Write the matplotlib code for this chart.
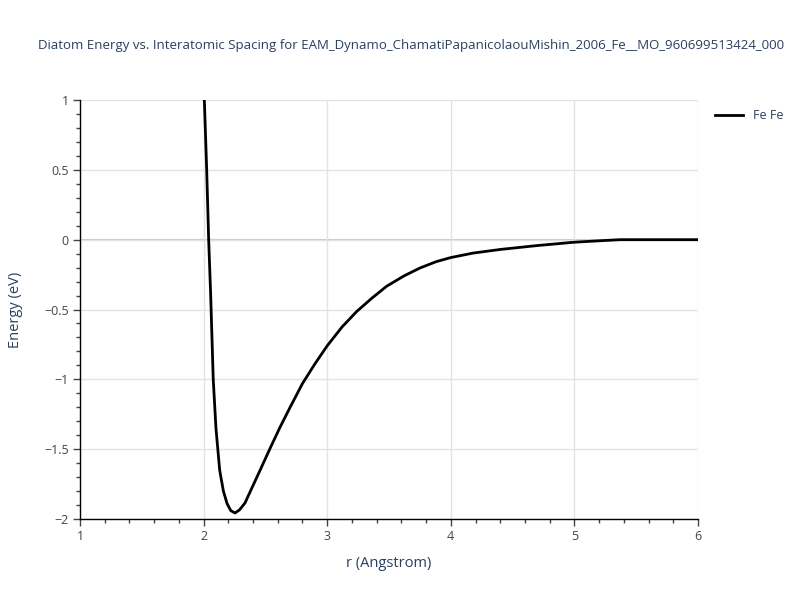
import matplotlib
matplotlib.use("Agg")
import matplotlib.pyplot as plt
from matplotlib.ticker import MultipleLocator

plt.rcParams['font.family'] = ['Open Sans', 'DejaVu Sans']

title = "Diatom Energy vs. Interatomic Spacing for EAM_Dynamo_ChamatiPapanicolaouMishin_2006_Fe__MO_960699513424_000"

# values
r = [1.99, 2.006, 2.025, 2.041, 2.057, 2.078, 2.10, 2.13, 2.16, 2.19, 2.22, 2.254,
     2.29, 2.335, 2.40, 2.46, 2.54, 2.62, 2.70, 2.80, 2.90, 3.0, 3.12, 3.24, 3.36,
     3.48, 3.62, 3.75, 3.88, 4.0, 4.18, 4.4, 4.7, 5.0, 5.2, 5.37, 5.6, 6.0]
energy = [1.3, 1.0, 0.5, 0.0, -0.39, -1.0, -1.35, -1.65, -1.80, -1.89, -1.94, -1.957,
          -1.935, -1.885, -1.76, -1.645, -1.49, -1.34, -1.20, -1.03, -0.89, -0.76, -0.625,
          -0.513, -0.42, -0.334, -0.26, -0.203, -0.158, -0.128, -0.096, -0.07, -0.042,
          -0.018, -0.008, 0.0, 0.0, 0.0]
label = "Fe Fe"

fig = plt.figure(figsize=(8, 6), dpi=100)
ax = fig.add_axes([0.1, 0.135, 0.7725, 0.6983])

ax.plot(r, energy, color="black", lw=2, label=label, zorder=3)
ax.set_xlim(1, 6)
ax.set_ylim(-2, 1)

ax.xaxis.set_major_locator(MultipleLocator(1))
ax.xaxis.set_minor_locator(MultipleLocator(0.2))
ax.yaxis.set_major_locator(MultipleLocator(0.5))
ax.yaxis.set_minor_locator(MultipleLocator(0.1))
ax.yaxis.set_major_formatter(plt.FuncFormatter(lambda v, p: ("%g" % v).replace("-", "\u2212")))

ax.grid(True, which="major", color="#e3e3e3", lw=1, zorder=0)
ax.axhline(0, color="#c8c8c8", lw=1.5, zorder=1)

for s in ["top", "right"]:
    ax.spines[s].set_visible(False)
for s in ["left", "bottom"]:
    ax.spines[s].set_color("black")
    ax.spines[s].set_linewidth(1)

ax.tick_params(which="major", length=5, width=1, color="#444444",
               labelsize=9, labelcolor="#444444", pad=3)
ax.tick_params(which="minor", length=3, width=1, color="#444444")

ax.set_xlabel("r (Angstrom)", fontsize=10.5, color="#2a3f5f", labelpad=9)
ax.set_ylabel("Energy (eV)", fontsize=10.5, color="#2a3f5f", labelpad=15)

fig.text(0.514, 0.925, title, ha="center", va="center", fontsize=9.55, color="#2a3f5f")

ax.legend(loc="upper left", bbox_to_anchor=(1.01, 1.005), frameon=False,
          fontsize=9, handlelength=2.2, labelcolor="#2a3f5f")

fig.savefig("out.png", dpi=100)
